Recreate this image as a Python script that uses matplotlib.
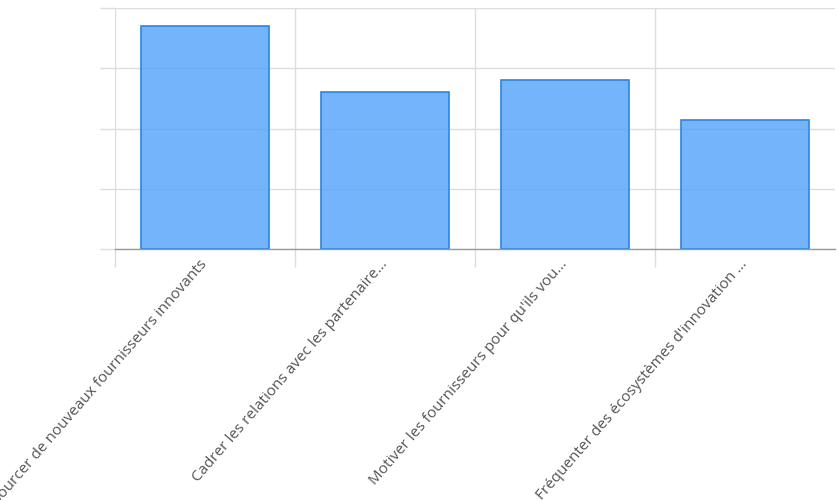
import numpy as np
import matplotlib.pyplot as plt
from matplotlib.ticker import FixedLocator

# data
categories = [
    "Sourcer de nouveaux fournisseurs innovants",
    "Cadrer les relations avec les partenaire...",
    "Motiver les fournisseurs pour qu'ils vou...",
    "Fréquenter des écosystèmes d'innovation ...",
]
values = [3.7, 2.61, 2.81, 2.14]

plt.rcParams['font.family'] = ['Open Sans', 'DejaVu Sans']

fig = plt.figure(figsize=(8.38, 5.0), dpi=100)
ax = fig.add_axes([115 / 838, 1 - 249 / 500, 720 / 838, 241 / 500])

x = np.arange(len(categories))
ax.bar(x, values, width=0.715, color=(90 / 255, 166 / 255, 251 / 255, 0.84),
       edgecolor='#2b84e6', linewidth=1.2, zorder=2)

ax.set_xlim(-0.5, len(categories) - 0.5)
ax.set_ylim(0, 4)

# grid
grid_c = '#dddddd'
ax.set_yticks([0, 1, 2, 3, 4])
ax.set_yticklabels([])
ax.tick_params(axis='y', length=11, color=grid_c, width=1)
ax.yaxis.grid(True, color=grid_c, linewidth=1)

ax.set_xticks(x)
ax.set_xticklabels(categories, rotation=49, ha='right', va='center',
                   rotation_mode='anchor', fontsize=11, color='#555555')
ax.tick_params(axis='x', which='major', length=0, pad=9)
ax.xaxis.set_minor_locator(FixedLocator(np.arange(-0.5, len(categories) - 0.5, 1)))
ax.tick_params(axis='x', which='minor', length=13, color=grid_c, width=1)
ax.xaxis.grid(True, which='minor', color=grid_c, linewidth=1)
ax.set_axisbelow(True)

for s in ['top', 'right', 'left']:
    ax.spines[s].set_visible(False)
ax.spines['bottom'].set_color('#999999')
ax.spines['bottom'].set_linewidth(1)
ax.spines['bottom'].set_zorder(4)

fig.savefig('out.png', dpi=100)
